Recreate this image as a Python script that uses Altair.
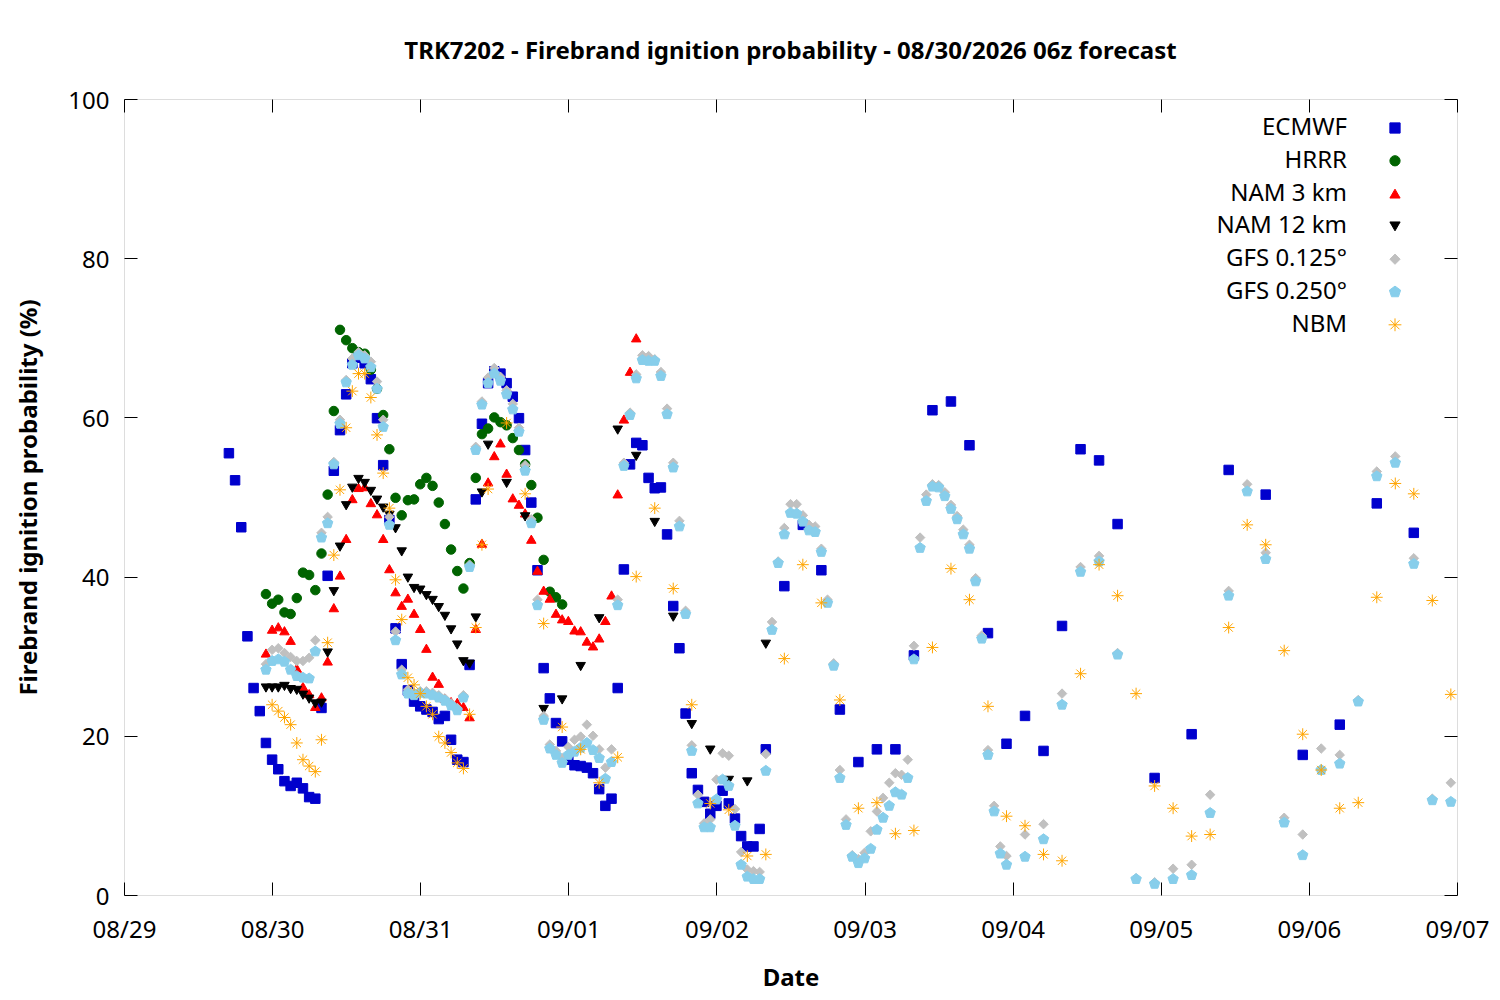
import altair as alt
import pandas as pd

# ---------------- data ----------------
MODELS = ["ECMWF", "HRRR", "NAM 3 km", "NAM 12 km", "GFS 0.125°", "GFS 0.250°", "NBM"]
COLORS = ["#0000cd", "#006400", "#ff0000", "#000000", "#c0c0c0", "#87ceeb", "#ffa500"]

x_tick_hours = [0, 24, 48, 72, 96, 120, 144, 168, 192, 216]
x_tick_labels = ["08/29", "08/30", "08/31", "09/01", "09/02", "09/03", "09/04", "09/05", "09/06", "09/07"]
y_ticks = [0, 20, 40, 60, 80, 100]

# forecast hours (hours after 08/29 00z)
ecmwf_hours = list(range(17, 105)) + list(range(107, 162, 3)) + list(range(167, 210, 6))
ecmwf_vals = [
    55.5, 52.1, 46.2, 32.5, 26.0, 23.1, 19.1, 17.0, 15.8, 14.3,
    13.7, 14.1, 13.4, 12.3, 12.1, 23.5, 40.1, 53.3, 58.4, 62.9,
    66.8, 67.5, 66.8, 64.8, 59.9, 54.0, 47.1, 33.5, 29.0, 25.7,
    24.3, 23.7, 23.3, 23.0, 22.1, 22.5, 19.5, 17.0, 16.7, 28.9,
    49.7, 59.2, 64.3, 65.8, 65.5, 64.3, 62.6, 59.9, 55.9, 49.3,
    40.8, 28.5, 24.7, 21.6, 19.3, 17.0, 16.3, 16.2, 16.0, 15.3,
    13.3, 11.2, 12.1, 26.0, 40.9, 54.1, 56.8, 56.5, 52.4, 51.1,
    51.2, 45.3, 36.3, 31.0, 22.8, 15.3, 13.2, 11.7, 10.2, 11.2,
    13.1, 11.5, 9.6, 7.4, 6.1, 6.1, 8.3, 18.3,
    38.8, 46.5, 40.8, 23.3, 16.7, 18.3, 18.3, 30.1, 60.9, 62.0,
    56.5, 32.9, 19.0, 22.5, 18.1, 33.8, 56.0, 54.6, 46.6,
    14.7, 20.2, 53.4, 50.3, 17.6, 21.4, 49.2, 45.5,
]

hrrr_hours = list(range(23, 72))
hrrr_vals = [
    37.8, 36.6, 37.1, 35.5, 35.3, 37.3, 40.5, 40.2, 38.3, 42.9,
    50.3, 60.8, 71.0, 69.7, 68.7, 68.2, 68.0, 66.0, 63.6, 60.3,
    56.0, 49.9, 47.7, 49.6, 49.7, 51.6, 52.4, 51.4, 49.3, 46.6,
    43.4, 40.7, 38.5, 41.7, 52.4, 57.9, 58.6, 60.0, 59.4, 59.0,
    57.4, 55.9, 54.1, 51.5, 47.4, 42.1, 38.1, 37.4, 36.5,
]

nam3_hours = list(range(23, 84))
nam3_vals = [
    30.4, 33.4, 33.7, 33.2, 32.0, 28.5, 26.2, 25.3, 23.7, 24.9,
    29.4, 36.1, 40.2, 44.8, 49.8, 51.2, 51.3, 49.3, 47.9, 44.8,
    41.0, 38.1, 36.4, 37.3, 35.4, 33.5, 31.0, 27.5, 26.6, 24.7,
    24.3, 24.2, 23.7, 22.4, 33.5, 44.2, 51.9, 55.2, 56.8, 53.0,
    49.9, 49.1, 48.0, 44.7, 40.8, 38.3, 37.3, 35.4, 34.7, 34.5,
    33.3, 33.2, 31.9, 31.3, 32.3, 34.5, 37.7, 50.4, 59.8, 65.8,
    70.0,
]

nam12_hours = list(range(23, 60)) + list(range(62, 105, 3))
nam12_vals = [
    26.0, 26.0, 26.0, 26.2, 25.8, 25.7, 25.1, 24.6, 24.0, 24.1,
    30.4, 38.1, 43.7, 48.9, 51.1, 52.2, 51.7, 50.7, 49.6, 48.6,
    47.7, 46.0, 43.1, 39.8, 38.5, 38.3, 37.6, 37.0, 36.1, 35.0,
    33.3, 31.4, 29.3, 29.0, 34.8, 50.5, 56.5,
    51.7, 47.5, 23.3, 24.5, 28.7, 34.7, 58.4, 55.1, 46.8, 34.9,
    21.4, 18.2, 14.4, 14.2, 31.5,
]

gfs_hours = list(range(23, 144)) + list(range(146, 216, 3))
gfs125_vals = [
    29.0, 30.8, 31.0, 30.4, 29.9, 29.4, 29.4, 29.8, 32.0, 45.5,
    47.5, 54.4, 59.7, 64.7, 67.4, 68.2, 67.8, 67.0, 64.5, 59.7,
    47.5, 33.1, 28.3, 25.8, 25.4, 25.6, 25.6, 25.4, 25.1, 24.7,
    24.1, 23.5, 25.1, 41.5, 56.3, 62.0, 65.0, 66.2, 65.1, 63.4,
    61.7, 58.7, 54.0, 47.2, 37.1, 22.5, 18.9, 18.1, 17.2, 18.6,
    19.5, 19.9, 21.4, 20.0, 18.3, 16.0, 18.3, 37.1, 54.3, 60.6,
    65.4, 67.8, 67.7, 67.3, 65.7, 61.1, 54.3, 47.0, 35.7, 18.8,
    12.6, 9.0, 9.5, 14.5, 17.8, 17.5, 10.8, 5.4, 3.2, 3.0,
    2.9, 17.7, 34.3, 41.9, 46.1, 49.1, 49.1, 47.7, 46.5, 46.3,
    43.5, 37.1, 29.1, 15.7, 9.5, 5.0, 4.5, 5.3, 8.0, 10.5,
    12.2, 14.1, 15.3, 15.1, 17.0, 31.3, 44.9, 50.3, 51.6, 51.5,
    50.6, 49.0, 47.6, 45.9, 44.0, 39.8, 32.6, 18.2, 11.2, 6.1,
    4.9,
    7.6, 8.9, 25.3, 41.2, 42.6, 30.4, 2.1, 1.6, 3.3, 3.8,
    12.6, 38.2, 51.6, 43.0, 9.7, 7.6, 18.4, 17.6, 24.5, 53.2,
    55.1, 42.3, 12.1, 14.1,
]
gfs250_vals = [
    28.3, 29.4, 29.6, 29.3, 28.3, 27.5, 27.3, 27.2, 30.6, 44.9,
    46.7, 54.1, 59.2, 64.4, 66.6, 67.8, 67.4, 66.3, 63.6, 58.8,
    46.5, 32.0, 27.7, 25.3, 25.1, 25.4, 25.3, 25.1, 24.8, 24.4,
    23.8, 23.2, 24.8, 41.2, 55.9, 61.6, 64.3, 65.5, 64.6, 62.9,
    61.0, 58.2, 53.3, 46.7, 36.4, 22.0, 18.4, 17.6, 16.6, 17.6,
    18.0, 18.5, 19.1, 18.2, 17.2, 14.6, 16.7, 36.4, 53.9, 60.3,
    64.9, 67.2, 67.1, 67.1, 65.2, 60.4, 53.7, 46.3, 35.3, 18.1,
    11.5, 8.5, 8.5, 12.0, 14.5, 13.7, 8.7, 3.8, 2.3, 2.0,
    2.0, 15.6, 33.3, 41.7, 45.3, 48.0, 47.9, 46.9, 45.8, 45.6,
    43.1, 36.7, 28.8, 14.7, 8.8, 4.8, 4.0, 4.6, 5.8, 8.2,
    9.7, 11.2, 12.9, 12.6, 14.7, 29.6, 43.6, 49.5, 51.3, 51.2,
    50.1, 48.5, 47.2, 45.3, 43.5, 39.4, 32.2, 17.6, 10.5, 5.2,
    3.8,
    4.8, 7.0, 23.9, 40.6, 41.9, 30.2, 2.0, 1.4, 2.0, 2.5,
    10.3, 37.6, 50.7, 42.2, 9.1, 5.0, 15.7, 16.5, 24.3, 52.6,
    54.3, 41.6, 11.9, 11.7,
]

nbm_hours = list(range(24, 60)) + list(range(62, 216, 3))
nbm_vals = [
    23.9, 23.1, 22.3, 21.4, 19.1, 17.0, 16.2, 15.5, 19.5, 31.7,
    42.7, 50.9, 58.7, 63.3, 65.5, 65.5, 62.5, 57.8, 53.0, 48.6,
    39.6, 34.6, 27.3, 26.4, 25.3, 23.7, 22.7, 19.9, 19.1, 17.9,
    16.6, 15.9, 22.7, 33.6, 44.0, 51.0,
    59.3, 50.4, 34.1, 21.1, 18.3, 14.1, 17.3, 40.0, 48.6, 38.5,
    23.9, 11.5, 10.7, 4.9, 5.1, 29.7, 41.5, 36.7, 24.5, 10.9,
    11.6, 7.7, 8.1, 31.1, 41.0, 37.1, 23.7, 9.9, 8.7, 5.1,
    4.3, 27.8, 41.5, 37.6, 25.3, 13.7, 10.9, 7.4, 7.6, 33.6,
    46.5, 44.0, 30.7, 20.2, 15.7, 10.9, 11.6, 37.4, 51.7, 50.4,
    37.0, 25.2,
]

series = [
    ("ECMWF", ecmwf_hours, ecmwf_vals),
    ("HRRR", hrrr_hours, hrrr_vals),
    ("NAM 3 km", nam3_hours, nam3_vals),
    ("NAM 12 km", nam12_hours, nam12_vals),
    ("GFS 0.125°", gfs_hours, gfs125_vals),
    ("GFS 0.250°", gfs_hours, gfs250_vals),
    ("NBM", nbm_hours, nbm_vals),
]

rows = []
for name, hrs, vals in series:
    if len(hrs) != len(vals):
        raise ValueError(f"{name}: {len(hrs)} hours vs {len(vals)} values")
    for h, v in zip(hrs, vals):
        rows.append({"hour": h, "prob": v, "model": name})
df = pd.DataFrame(rows)

# ---------------- styling ----------------
FONT = "Noto Sans"
PENTAGON = "M0,-1.15L1.094,-0.355L0.676,0.93L-0.676,0.93L-1.094,-0.355Z"
ASTERISK = "M-1.25,0L1.25,0M0,-1.25L0,1.25M-0.88,-0.88L0.88,0.88M-0.88,0.88L0.88,-0.88"
SHAPES = ["square", "circle", "triangle-up", "triangle-down", "diamond", PENTAGON, ASTERISK]

label_expr = "[" + ",".join(f"'{t}'" for t in x_tick_labels) + "][round(datum.value/24)]"

xscale = alt.Scale(domain=[0, 216], nice=False, zero=False)
yscale = alt.Scale(domain=[0, 100], nice=False, zero=True)

TICK = 13

x_bottom = alt.Axis(values=x_tick_hours, labelExpr=label_expr, orient="bottom", offset=-TICK,
                    tickSize=TICK, domain=False, grid=False, labelFlush=False, labelOverlap=False,
                    labelFontSize=24, labelFont=FONT, labelColor="black", labelPadding=23,
                    tickColor="black", tickWidth=1,
                    titleFontSize=24, titleFont=FONT, titleFontWeight="bold", titleColor="black",
                    titlePadding=24)
y_left = alt.Axis(values=y_ticks, orient="left", offset=-TICK, tickSize=TICK, domain=False, grid=False,
                  labelFlush=False, labelOverlap=False, labelFontSize=24, labelFont=FONT,
                  labelColor="black", labelPadding=15, labelOffset=2, tickColor="black", tickWidth=1,
                  titleFontSize=24, titleFont=FONT, titleFontWeight="bold", titleColor="black",
                  titlePadding=26)
x_top = alt.Axis(values=x_tick_hours, orient="top", offset=-TICK, tickSize=TICK, domain=False,
                 grid=False, labels=False, tickColor="black", tickWidth=1, title=None)
y_right = alt.Axis(values=y_ticks, orient="right", offset=-TICK, tickSize=TICK, domain=False,
                   grid=False, labels=False, tickColor="black", tickWidth=1, title=None)

legend = alt.Legend(title=None, orient="none", legendX=1259, legendY=17, labelAlign="right",
                    labelOffset={"expr": "-60"}, symbolOffset=0, labelFontSize=24, labelFont=FONT,
                    labelColor="black", rowPadding=8.8, symbolSize=105, symbolStrokeWidth=1,
                    padding=0, labelLimit=400)

color_scale = alt.Scale(domain=MODELS, range=COLORS)

points = alt.Chart(df).mark_point(filled=True, size=90, strokeWidth=1, opacity=1).encode(
    x=alt.X("hour:Q", scale=xscale, axis=x_bottom, title="Date"),
    y=alt.Y("prob:Q", scale=yscale, axis=y_left, title="Firebrand ignition probability (%)"),
    color=alt.Color("model:N", scale=color_scale, legend=legend),
    stroke=alt.Stroke("model:N", scale=color_scale, legend=legend),
    shape=alt.Shape("model:N", scale=alt.Scale(domain=MODELS, range=SHAPES), legend=legend),
)

mirror = alt.Chart(df).mark_point(opacity=0, size=1).encode(
    x=alt.X("hour:Q", scale=xscale, axis=x_top),
    y=alt.Y("prob:Q", scale=yscale, axis=y_right),
)

chart = alt.layer(points, mirror).resolve_axis(x="independent", y="independent").properties(
    width=1333,
    height=796,
    autosize=alt.AutoSizeParams(type="none"),
    padding={"left": 116, "top": 91, "right": 35, "bottom": 97},
    title=alt.TitleParams(
        text="TRK7202 - Firebrand ignition probability - 08/30/2026 06z forecast",
        font=FONT, fontSize=24, fontWeight="bold", color="black",
        anchor="middle", frame="group", baseline="alphabetic", offset=6,
    ),
).configure_view(stroke="black", strokeWidth=1).configure(background="white")

chart.save("out.html", embed_options={"renderer": "svg", "actions": False})
